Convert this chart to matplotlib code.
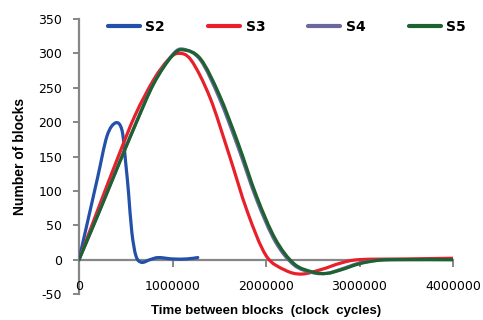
import numpy as np
import matplotlib
matplotlib.use("Agg")
import matplotlib.pyplot as plt
from matplotlib.path import Path
from matplotlib.patches import PathPatch
from matplotlib.lines import Line2D

plt.rcParams["axes.unicode_minus"] = False

# data (knots of Excel-style smoothed lines)
s2_x = [0, 100000, 200000, 300000, 392000, 460000, 500000, 530000, 565000, 610000, 670000,
        760000, 850000, 1000000, 1150000, 1270000]
s2_y = [0, 60, 120, 180, 199, 188, 140, 97, 40, 5, -4, 0, 3, 1, 1, 3]

s3_x = [0, 200000, 400000, 600000, 800000, 950000, 1060000, 1200000, 1400000, 1600000, 1800000,
        2000000, 2200000, 2380000, 2600000, 2800000, 3000000, 3500000, 4000000]
s3_y = [0, 72, 143, 210, 262, 290, 300, 290, 236, 155, 70, 6, -15, -21, -14, -5, 0, 1, 2]

s4_x = [0, 200000, 400000, 600000, 800000, 1000000, 1120000, 1300000, 1500000, 1700000, 1900000,
        2100000, 2300000, 2500000, 2650000, 2800000, 3000000, 3200000, 3400000, 4000000]
s4_y = [0, 65, 131, 196, 257, 298, 306, 290, 235, 164, 87, 26, -8, -19, -20, -14, -5, -1, 0, 0]

s5_x = [0, 200000, 400000, 600000, 800000, 1000000, 1120000, 1300000, 1500000, 1700000, 1900000,
        2100000, 2300000, 2500000, 2650000, 2800000, 3000000, 3200000, 3400000, 4000000]
s5_y = [0, 64, 130, 195, 256, 297, 305, 292, 240, 170, 92, 30, -6, -18, -20, -15, -6, -1, 0, 0]

series = [("S2", s2_x, s2_y, "#2350A8"),
          ("S3", s3_x, s3_y, "#E8202A"),
          ("S4", s4_x, s4_y, "#6A689E"),
          ("S5", s5_x, s5_y, "#1E6232")]


def smooth_path(xs, ys):
    # Catmull-Rom style bezier like Excel's "smoothed line"
    pts = np.column_stack([xs, ys]).astype(float)
    verts = [pts[0]]
    codes = [Path.MOVETO]
    n = len(pts)
    for i in range(n - 1):
        p0 = pts[i - 1] if i > 0 else pts[i]
        p3 = pts[i + 2] if i + 2 < n else pts[i + 1]
        c1 = pts[i] + (pts[i + 1] - p0) / 6.0
        c2 = pts[i + 1] - (p3 - pts[i]) / 6.0
        verts += [c1, c2, pts[i + 1]]
        codes += [Path.CURVE4] * 3
    return Path(verts, codes)


fig = plt.figure(figsize=(4.83, 3.2), dpi=100)
ax = fig.add_axes([79 / 483, 26 / 320, 374 / 483, 275 / 320])

handles = []
for name, xs, ys, col in series:
    patch = PathPatch(smooth_path(xs, ys), facecolor="none", edgecolor=col,
                      linewidth=2.3, capstyle="round", joinstyle="round", zorder=3)
    ax.add_patch(patch)
    handles.append(Line2D([], [], color=col, linewidth=3, solid_capstyle="round", label=name))

ax.set_xlim(0, 4000000)
ax.set_ylim(-50, 350)
ax.set_xticks([0, 1000000, 2000000, 3000000, 4000000])
ax.set_xticklabels(["0", "1000000", "2000000", "3000000", "4000000"])
ax.set_yticks(range(-50, 351, 50))

gray = "#868686"
for s in ["top", "right"]:
    ax.spines[s].set_visible(False)
ax.spines["bottom"].set_position(("data", 0))
ax.spines["left"].set_color(gray)
ax.spines["bottom"].set_color(gray)
ax.spines["left"].set_linewidth(1.6)
ax.spines["bottom"].set_linewidth(1.6)
ax.spines["left"].set_zorder(1)
ax.spines["bottom"].set_zorder(1)
ax.tick_params(axis="y", direction="out", length=4, width=1.4, color=gray, labelsize=9, pad=8)
ax.tick_params(axis="x", direction="out", length=5, width=1.4, color=gray, labelsize=9, pad=10)

ax.set_ylabel("Number of blocks", fontsize=10, fontweight="bold", family="Liberation Sans", labelpad=8)
fig.text(266 / 483, 1 - 311 / 320, "Time between blocks  (clock  cycles)", fontsize=9.5,
         fontweight="bold", family="Liberation Sans", ha="center", va="center")

fig.legend(handles=handles, loc="center", bbox_to_anchor=(287 / 483, 1 - 27 / 320),
           bbox_transform=fig.transFigure, ncol=4, frameon=False, handlelength=2.3,
           handletextpad=0.4, columnspacing=3.1,
           prop={"weight": "bold", "size": 10})

fig.savefig("out.png", dpi=100)
